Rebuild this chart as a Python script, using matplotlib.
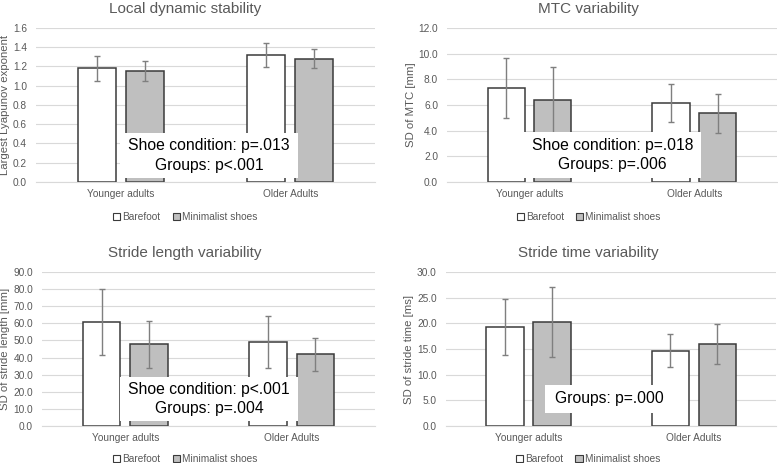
import matplotlib
matplotlib.use("Agg")
import matplotlib.pyplot as plt
from matplotlib.patches import Rectangle, Patch

plt.rcParams["font.family"] = ["Liberation Sans", "DejaVu Sans"]

groups = ["Younger adults", "Older Adults"]
conditions = ["Barefoot", "Minimalist shoes"]

titles = ["Local dynamic stability", "MTC variability",
          "Stride length variability", "Stride time variability"]
ylabels = ["Largest Lyapunov exponent", "SD of MTC [mm]",
           "SD of stride length [mm]", "SD of stride time [ms]"]

# means [younger, older] per condition
barefoot_mean = [[1.18, 1.32], [7.3, 6.15], [60.8, 49.0], [19.3, 14.7]]
barefoot_err = [[0.13, 0.125], [2.35, 1.5], [19.2, 15.3], [5.45, 3.15]]
minimal_mean = [[1.15, 1.28], [6.35, 5.35], [47.7, 41.8], [20.3, 15.9]]
minimal_err = [[0.105, 0.10], [2.6, 1.5], [13.6, 9.6], [6.85, 3.9]]

ymax = [1.6, 12.0, 90.0, 30.0]
ystep = [0.2, 2.0, 10.0, 5.0]

stats_text = ["Shoe condition: p=.013\nGroups: p<.001",
              "Shoe condition: p=.018\nGroups: p=.006",
              "Shoe condition: p<.001\nGroups: p=.004",
              "Groups: p=.000"]

# axes rects in figure fraction, and stats box in axes fraction
axes_rects = [
    [0.0463, 0.607, 0.4357, 0.3325],
    [0.5746, 0.607, 0.424, 0.3325],
    [0.054, 0.0799, 0.428, 0.3326],
    [0.573, 0.0799, 0.425, 0.3326],
]
box_rects = [
    (0.248, 0.026, 0.525, 0.292),
    (0.233, 0.026, 0.537, 0.301),
    (0.234, 0.03, 0.535, 0.288),
    (0.299, 0.086, 0.366, 0.18),
]
title_x = [0.44, 0.43, 0.43, 0.43]
legend_y = [-0.148, -0.148, -0.135, -0.135]

edge = "#3a3a3a"
grid_c = "#d9d9d9"
tick_c = "#595959"
err_c = "#7f7f7f"
gray_fill = "#bfbfbf"

fig = plt.figure(figsize=(7.78, 4.63), dpi=100)

for i in range(4):
    ax = fig.add_axes(axes_rects[i])
    x = range(len(groups))
    w = 0.225
    off = 0.142
    xb = [xi - off for xi in x]
    xm = [xi + off for xi in x]
    ax.bar(xb, barefoot_mean[i], width=w, color="white", edgecolor=edge,
           linewidth=1.1, zorder=2)
    ax.bar(xm, minimal_mean[i], width=w, color=gray_fill, edgecolor=edge,
           linewidth=1.1, zorder=2)
    ax.errorbar(xb, barefoot_mean[i], yerr=barefoot_err[i], fmt="none",
                ecolor=err_c, elinewidth=1.0, capsize=2, capthick=1.0, zorder=3)
    ax.errorbar(xm, minimal_mean[i], yerr=minimal_err[i], fmt="none",
                ecolor=err_c, elinewidth=1.0, capsize=2, capthick=1.0, zorder=3)

    ax.set_xlim(-0.5, 1.5)
    ax.set_ylim(0, ymax[i])
    n = int(round(ymax[i] / ystep[i]))
    ticks = [k * ystep[i] for k in range(n + 1)]
    ax.set_yticks(ticks)
    ax.set_yticklabels(["{:.1f}".format(t) for t in ticks])
    ax.set_xticks(list(x))
    ax.set_xticklabels(groups)
    ax.tick_params(axis="both", length=0, labelsize=7.3, colors=tick_c)
    ax.tick_params(axis="x", pad=5)
    ax.tick_params(axis="y", pad=6.5)
    ax.yaxis.grid(True, color=grid_c, linewidth=0.8, zorder=0)
    ax.set_axisbelow(True)
    for s in ["top", "right", "left"]:
        ax.spines[s].set_visible(False)
    ax.spines["bottom"].set_color(grid_c)
    ax.spines["bottom"].set_linewidth(0.8)
    ax.set_title(titles[i], fontsize=11, color=tick_c, pad=11, x=title_x[i])
    ax.set_ylabel(ylabels[i], fontsize=8.2, color=tick_c, labelpad=2)

    bx, by, bw, bh = box_rects[i]
    ax.add_patch(Rectangle((bx, by), bw, bh, transform=ax.transAxes,
                           facecolor="white", edgecolor="none", zorder=4))
    if i == 3:
        ax.text(bx + 0.03, by + bh / 2, stats_text[i], transform=ax.transAxes,
                ha="left", va="center", fontsize=11.3, color="black", zorder=5)
    else:
        ax.text(bx + bw / 2, by + bh / 2, stats_text[i], transform=ax.transAxes,
                ha="center", va="center", fontsize=11.3, color="black",
                linespacing=1.35, zorder=5)

    handles = [Patch(facecolor="white", edgecolor=edge, linewidth=0.8),
               Patch(facecolor=gray_fill, edgecolor=edge, linewidth=0.8)]
    ax.legend(handles, conditions, loc="upper center",
              bbox_to_anchor=(title_x[i], legend_y[i]), ncol=2, frameon=False,
              fontsize=7.3, handlelength=0.7, handleheight=0.7,
              handletextpad=0.2, columnspacing=1.2, labelcolor=tick_c,
              borderpad=0.2)

fig.savefig("out.png", dpi=100)
